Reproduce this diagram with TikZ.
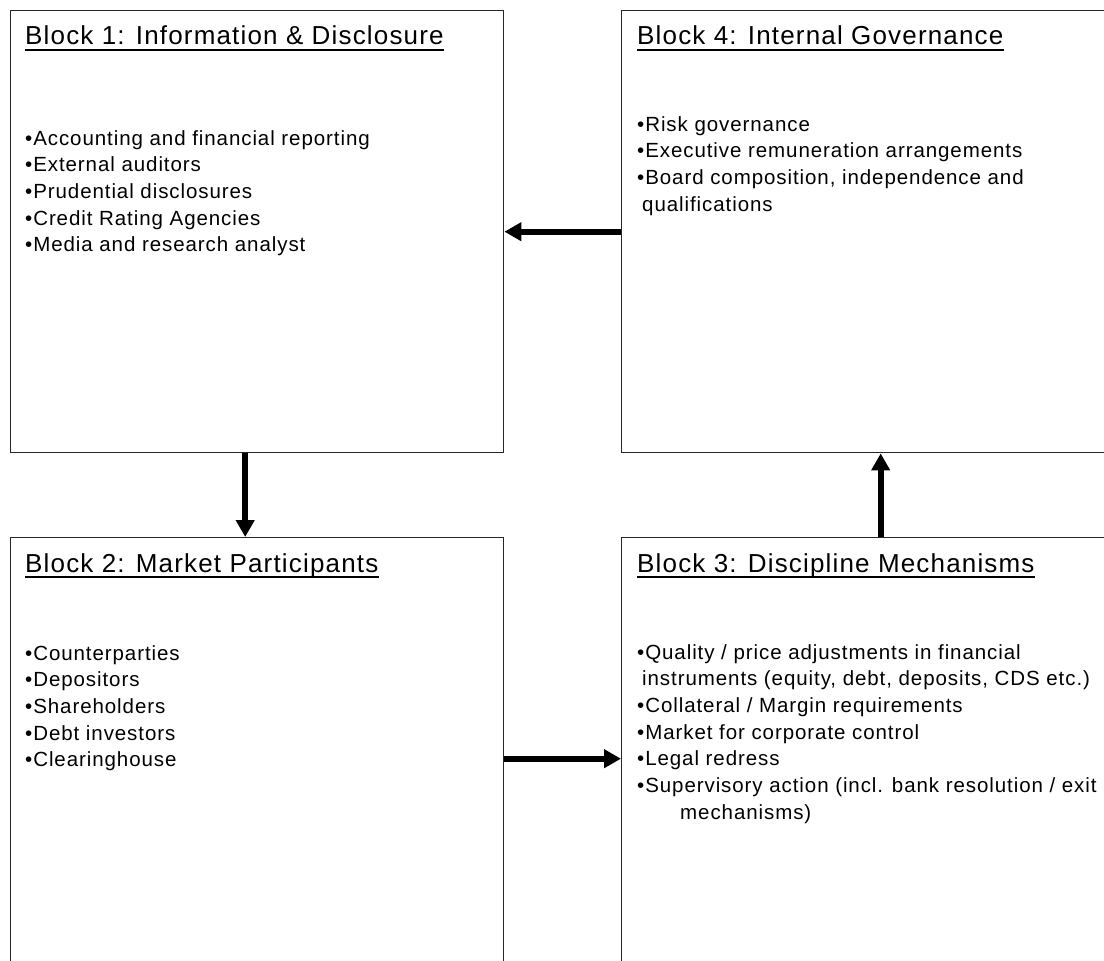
\documentclass[tikz,border=0pt]{standalone}
\usepackage{fontspec}
\setmainfont{Liberation Sans}[LetterSpace=4.5]
\usetikzlibrary{arrows.meta, positioning}

\begin{document}
\begin{tikzpicture}[
    x=1pt, y=-1pt,
    every node/.style={inner sep=0pt},
    block/.style={rectangle, draw=black!85, line width=1.4pt, anchor=north west, minimum height=442pt},
    title/.style={anchor=base west, font=\fontsize{26}{30}\selectfont},
    items/.style={anchor=north west, align=left, font=\fontsize{20.5}{26.7}\selectfont},
    uline/.style={line width=1.4pt},
    arrow/.style={-{Triangle[length=17pt, width=18pt]}, line width=6pt}
]
\useasboundingbox (0,0) rectangle (1104,961);
\fill[white] (0,0) rectangle (1104,961);
\clip (0,0) rectangle (1104,961);

% the four blocks
\node[block, minimum width=493pt] (b1) at (10,10) {};
\node[block, minimum width=518pt] (b4) at (621,10) {};
\node[block, minimum width=493pt] (b2) at (10,537) {};
\node[block, minimum width=518pt] (b3) at (621,537) {};

% titles
\node[title] (t1) at ([xshift=15pt, yshift=-35pt]b1.north west) {Block 1: Information \& Disclosure};
\node[title] (t4) at ([xshift=16pt, yshift=-35pt]b4.north west) {Block 4: Internal Governance};
\node[title] (t2) at ([xshift=15pt, yshift=-35pt]b2.north west) {Block 2: Market Participants};
\node[title] (t3) at ([xshift=16pt, yshift=-35pt]b3.north west) {Block 3: Discipline Mechanisms};
\foreach \t in {t1, t2, t3, t4}
    \draw[uline] ([yshift=-5pt]\t.base west) -- ([yshift=-5pt]\t.base east);

% lists
\node[items] (l1) at ([xshift=15pt, yshift=-120pt]b1.north west) {%
•Accounting and financial reporting\\
•External auditors\\
•Prudential disclosures\\
•Credit Rating Agencies\\
•Media and research analyst};
\node[items] (l4) at ([xshift=16pt, yshift=-106pt]b4.north west) {%
•Risk governance\\
•Executive remuneration arrangements\\
•Board composition, independence and\\
\hspace*{5pt}qualifications};
\node[items] (l2) at ([xshift=15pt, yshift=-108pt]b2.north west) {%
•Counterparties\\
•Depositors\\
•Shareholders\\
•Debt investors\\
•Clearinghouse};
\node[items] (l3) at ([xshift=16pt, yshift=-107pt]b3.north west) {%
•Quality / price adjustments in financial\\
\hspace*{5pt}instruments (equity, debt, deposits, CDS etc.)\\
•Collateral / Margin requirements\\
•Market for corporate control\\
•Legal redress\\
•Supervisory action (incl. bank resolution / exit\\
\hspace*{43pt}mechanisms)};

% arrows
\draw[arrow] (b4.west) -- (b1.east);
\draw[arrow] ([xshift=-12pt]b1.south) -- ([xshift=-12pt]b2.north);
\draw[arrow] (b2.east) -- (b3.west);
\draw[arrow] (b3.north) -- (b4.south);
\end{tikzpicture}
\end{document}
